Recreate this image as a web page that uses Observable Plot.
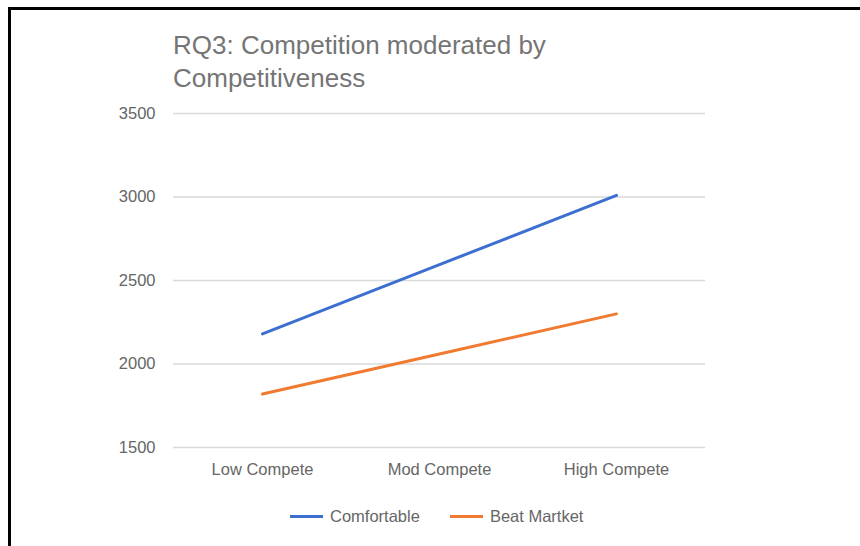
<!DOCTYPE html>
<html>
<head>
<meta charset="utf-8">
<script src="https://cdn.jsdelivr.net/npm/d3@7"></script>
<script src="https://cdn.jsdelivr.net/npm/@observablehq/plot@0.6"></script>
<style>
  html, body { margin: 0; padding: 0; background: #fff; width: 860px; height: 546px; overflow: hidden; }
  #page { position: relative; width: 860px; height: 546px; font-family: "Liberation Sans", Arial, sans-serif; }
  #frame { position: absolute; left: 8px; top: 7px; width: 900px; height: 600px; border-left: 3px solid #000; border-top: 3px solid #000; }
  #title { position: absolute; left: 173px; top: 29px; font-size: 26px; line-height: 33px; color: #757575; }
  #chart { position: absolute; left: 0; top: 95px; }
  #legend { position: absolute; left: 290px; top: 507px; display: flex; align-items: center; font-size: 16.5px; color: #666; }
  .sw { display: inline-block; width: 33px; height: 3px; margin-right: 7px; }
  .item { display: flex; align-items: center; margin-right: 30px; }
</style>
</head>
<body>
<div id="page">
  <div id="frame"></div>
  <div id="title">RQ3: Competition moderated by<br>Competitiveness</div>
  <div id="chart"></div>
  <div id="legend"></div>
</div>
<script>
const categories = ["Low Compete", "Mod Compete", "High Compete"];
const seriesNames = ["Comfortable", "Beat Martket"];
const comfortable = [2180, 2595, 3010];
const beatMarket = [1820, 2060, 2300];
const yTicks = [1500, 2000, 2500, 3000, 3500];
const colors = ["#3d6fd1", "#f07a30"];

const data = [];
categories.forEach((c, i) => {
  data.push({category: c, series: seriesNames[0], value: comfortable[i]});
  data.push({category: c, series: seriesNames[1], value: beatMarket[i]});
});

const chart = Plot.plot({
  width: 860,
  height: 390,
  marginLeft: 173,
  marginRight: 155,
  marginTop: 18,
  marginBottom: 38,
  style: {fontFamily: "'Liberation Sans', Arial, sans-serif", fontSize: "16.5px", color: "#666", background: "transparent"},
  x: {type: "point", domain: categories, padding: 0.5, tickSize: 0, tickPadding: 16, label: null},
  y: {domain: [1500, 3500], ticks: yTicks, tickFormat: d => String(d), tickSize: 0, tickPadding: 18, label: null},
  color: {domain: seriesNames, range: colors},
  marks: [
    Plot.ruleY(yTicks, {stroke: "#d9d9d9", strokeWidth: 1.5}),
    Plot.line(data, {x: "category", y: "value", z: "series", stroke: "series", strokeWidth: 3})
  ]
});
document.getElementById("chart").appendChild(chart);

const legend = document.getElementById("legend");
seriesNames.forEach((s, i) => {
  const item = document.createElement("div");
  item.className = "item";
  const sw = document.createElement("span");
  sw.className = "sw";
  sw.style.background = colors[i];
  item.appendChild(sw);
  item.appendChild(document.createTextNode(s));
  legend.appendChild(item);
});
</script>
</body>
</html>
